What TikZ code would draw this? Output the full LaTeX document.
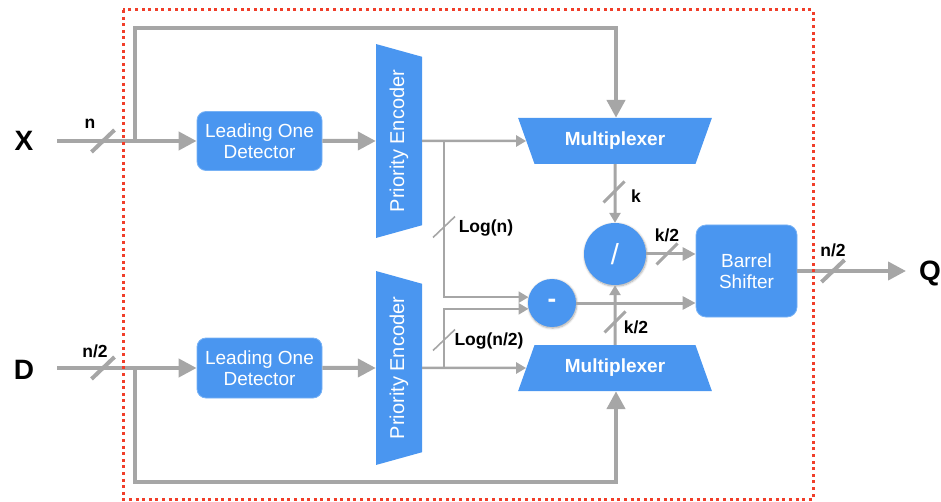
\documentclass[tikz,border=0pt]{standalone}
\usepackage{fontspec}
\setmainfont{Liberation Sans}
\usetikzlibrary{arrows.meta,shapes.geometric,calc,shadows.blur}

\definecolor{blk}{RGB}{74,150,240}
\definecolor{blkedge}{RGB}{120,178,245}
\definecolor{wiregray}{RGB}{166,166,166}
\definecolor{framered}{RGB}{240,62,42}

\tikzset{
  box/.style={fill=blk, draw=blkedge, line width=0.8pt, rounded corners=9pt,
    text=white, align=center, inner sep=0pt,
    font=\fontsize{19}{21}\selectfont},
  trap/.style={trapezium, trapezium stretches=true,
    trapezium left angle=60, trapezium right angle=60,
    minimum width=194pt, minimum height=46pt, inner sep=0pt,
    fill=blk, text=white},
  op/.style={circle, fill=blk, inner sep=0pt, text=white,
    blur shadow={shadow blur steps=6, shadow xshift=0.6pt,
      shadow yshift=-1pt, shadow opacity=35, shadow blur extra rounding=1pt}},
  lab/.style={inner sep=0pt, text=black, font=\fontsize{17.5}{20}\selectfont\bfseries},
  port/.style={inner sep=0pt, text=black, font=\fontsize{28}{30}\selectfont\bfseries},
  wthick/.style={draw=wiregray, line width=4pt},
  wbranch/.style={draw=wiregray, line width=4.6pt},
  wmid/.style={draw=wiregray, line width=3pt},
  wthin/.style={draw=wiregray, line width=2.5pt},
  bigtip/.style={-{Triangle[length=18pt,width=18pt]}},
  midtip/.style={-{Triangle[length=13pt,width=13pt]}},
  smalltip/.style={-{Triangle[length=10pt,width=11pt]}},
  busA/.pic={\draw[draw=wiregray, line width=4pt] (-11.5,11) -- (11.5,-11);},
  busB/.pic={\draw[draw=wiregray, line width=1.6pt] (-11,10.5) -- (11,-10.5);},
  busC/.pic={\draw[draw=wiregray, line width=3pt] (-10.5,10.5) -- (10.5,-10.5);},
}

\begin{document}
\begin{tikzpicture}[x=1pt,y=-1pt]
\useasboundingbox (0,0) rectangle (941,502);

% ports
\node[port] (X) at (24,141) {X};
\node[port] (D) at (24,370) {D};
\node[port] (Q) at (930,273) {Q};

% functional blocks
\node[box, minimum width=125pt, minimum height=59pt] (lod1) at (259.5,141) {Leading One\\Detector};
\node[box, minimum width=125pt, minimum height=60pt] (lod2) at (259.5,368) {Leading One\\Detector};
\node[trap, rotate=90, shape border rotate=180, font=\fontsize{20}{22}\selectfont] (pe1) at (399,141) {Priority Encoder};
\node[trap, rotate=90, shape border rotate=180, font=\fontsize{20}{22}\selectfont] (pe2) at (399,368) {Priority Encoder};
\node[trap, shape border rotate=180, font=\fontsize{19}{21}\selectfont\bfseries] (mux1) at (615,141) {Multiplexer};
\node[trap, font=\fontsize{19}{21}\selectfont\bfseries] (mux2) at (615,368) {Multiplexer};
\node[op, minimum size=62pt, font=\fontsize{29}{30}\selectfont] (div) at (615,254) {/};
\node[op, minimum size=48pt, font=\fontsize{26}{28}\selectfont\bfseries] (minus) at (552,303) {-};
\node[box, minimum width=101pt, minimum height=92pt, rounded corners=10pt] (bs) at (746.5,271) {Barrel\\Shifter};

% free ends and junctions
\coordinate (xin) at (57,141);
\coordinate (din) at (57,368);
\coordinate (j1) at (135,141);
\coordinate (j2) at (135,368);
\coordinate (tc) at (616,28);
\coordinate (bc) at (616,482);
\coordinate (b1) at (444,141);
\coordinate (b2) at (444,368);
\coordinate (qtip) at (906,271);

% X path
\draw[wthick, bigtip] (xin) -- (lod1);
\draw[wbranch, bigtip] (j1) |- (tc) -- (tc |- mux1.north);
\draw[wthick, bigtip] (lod1) -- (pe1);
\draw[wthin, smalltip] (pe1) -- (mux1);
\draw[wthin, smalltip] (b1) |- (minus.166);

% D path
\draw[wthick, bigtip] (din) -- (lod2);
\draw[wbranch, bigtip] (j2) |- (bc) -- (bc |- mux2.south);
\draw[wthick, bigtip] (lod2) -- (pe2);
\draw[wthin, smalltip] (pe2) -- (mux2);
\draw[wthin, smalltip] (b2) |- (minus.194);

% datapath to the shifter
\draw[wmid, smalltip] (mux1) -- (div);
\draw[wmid, smalltip] (mux2) -- (div);
\draw[wmid, midtip] (div) -- (div -| bs.west);
\draw[wmid, midtip] (minus) -- (minus -| bs.west);
\draw[wthick, bigtip] (bs.east |- qtip) -- (qtip);

% bus width marks
\pic at (103,141) {busA};
\pic at (103,368) {busA};
\pic at (833,271) {busA};
\pic at (444,227) {busB};
\pic at (444,340) {busB};
\pic at (614,192) {busC};
\pic at (667,254) {busC};
\pic at (615,322) {busC};

% bus width labels
\node[lab] (ln) at (90,124) {n};
\node[lab] (ln2) at (95,351) {n/2};
\node[lab] (llog) at (486,228) {Log(n)};
\node[lab] (llog2) at (489,341) {Log(n/2)};
\node[lab] (lk) at (636,196) {k};
\node[lab] (lk2a) at (667,235) {k/2};
\node[lab] (lk2b) at (636,327) {k/2};
\node[lab] (lq) at (833,250) {n/2};

% dotted boundary of the unit
\draw[draw=framered, line width=3pt, dash pattern=on 3pt off 3.6pt] (123,10) rectangle (813,499);
\end{tikzpicture}
\end{document}
